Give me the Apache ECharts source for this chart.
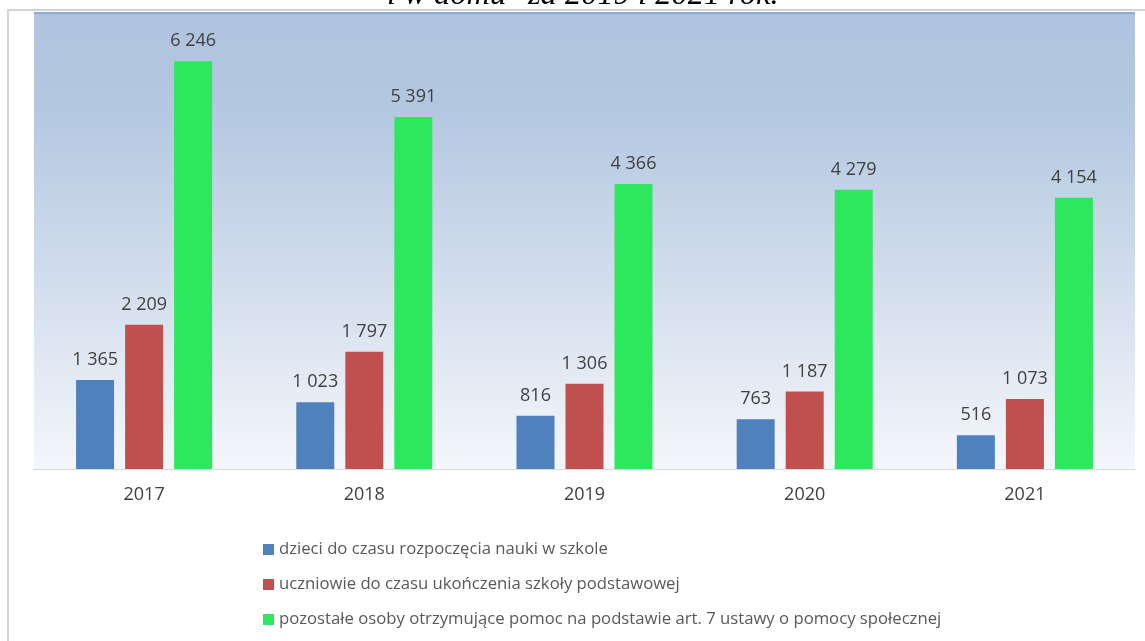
<!DOCTYPE html>
<html>
<head>
<meta charset="utf-8">
<script src="https://cdn.jsdelivr.net/npm/echarts@6/dist/echarts.min.js"></script>
<style>
html,body{margin:0;padding:0;background:#fff}
#main{width:1145px;height:641px}
</style>
</head>
<body>
<div id="main"></div>
<script>
// dane
var years = ['2017', '2018', '2019', '2020', '2021'];
var dzieci = [1365, 1023, 816, 763, 516];
var uczniowie = [2209, 1797, 1306, 1187, 1073];
var pozostale = [6246, 5391, 4366, 4279, 4154];
var seriesNames = [
  'dzieci do czasu rozpoczęcia nauki w szkole',
  'uczniowie do czasu ukończenia szkoły podstawowej',
  'pozostałe osoby otrzymujące pomoc na podstawie art. 7 ustawy o pomocy społecznej'
];
var colors = ['#4f81bd', '#c0504d', '#2de85c'];

var fnt = '"Open Sans", sans-serif';

// liczby ze spacja jako separator tysiecy
function fmt(v){
  return String(v).replace(/\B(?=(\d{3})+(?!\d))/g, ' ');
}

function mkSeries(name, data, color){
  return {
    name: name,
    type: 'bar',
    data: data,
    barWidth: 38,
    barGap: '29%',
    itemStyle: {color: color},
    label: {
      show: true,
      position: 'top',
      distance: 11,
      color: '#404040',
      fontFamily: fnt,
      fontSize: 18,
      formatter: function(p){ return fmt(p.value); }
    }
  };
}

var myChart = echarts.init(document.getElementById('main'));
var option = {
  backgroundColor: '#fff',
  animation: false,
  graphic: [
    // obcięty tytuł u góry
    {type: 'text', left: 387, top: -21, style: {
      text: 'i w domu" za 2019 i 2021 rok.',
      font: 'italic 32.5px "Liberation Serif", serif', fill: '#000'}},
    // ramka
    {type: 'rect', shape: {x: 8, y: 10, width: 1200, height: 700},
      style: {fill: 'none', stroke: '#d4d4d4', lineWidth: 2}, z: 10},
    {type: 'rect', shape: {x: 34, y: 12, width: 1101, height: 2},
      style: {fill: '#8eaad6'}, z: 10}
  ],
  grid: {
    left: 34, right: 10, top: 12, bottom: 172,
    show: true,
    borderWidth: 0,
    backgroundColor: new echarts.graphic.LinearGradient(0, 0, 0, 1, [
      {offset: 0, color: '#b0c4df'},
      {offset: 0.2, color: '#b3c7e1'},
      {offset: 0.6, color: '#d3deed'},
      {offset: 1, color: '#f4f7fb'}
    ])
  },
  legend: {
    orient: 'vertical',
    left: 258,
    top: 536,
    itemWidth: 11,
    itemHeight: 11,
    itemGap: 18,
    icon: 'rect',
    textStyle: {color: '#595959', fontFamily: fnt, fontSize: 16.7, lineHeight: 17},
    data: seriesNames
  },
  xAxis: {
    type: 'category',
    data: years,
    axisLine: {lineStyle: {color: '#d9d9d9', width: 1}},
    axisTick: {show: false},
    axisLabel: {color: '#404040', fontFamily: fnt, fontSize: 18, margin: 17}
  },
  yAxis: {
    type: 'value',
    min: 0,
    max: 7000,
    interval: 1000,
    show: false,
    splitLine: {show: false}
  },
  series: [
    mkSeries(seriesNames[0], dzieci, colors[0]),
    mkSeries(seriesNames[1], uczniowie, colors[1]),
    mkSeries(seriesNames[2], pozostale, colors[2])
  ]
};
myChart.setOption(option);
</script>
</body>
</html>
